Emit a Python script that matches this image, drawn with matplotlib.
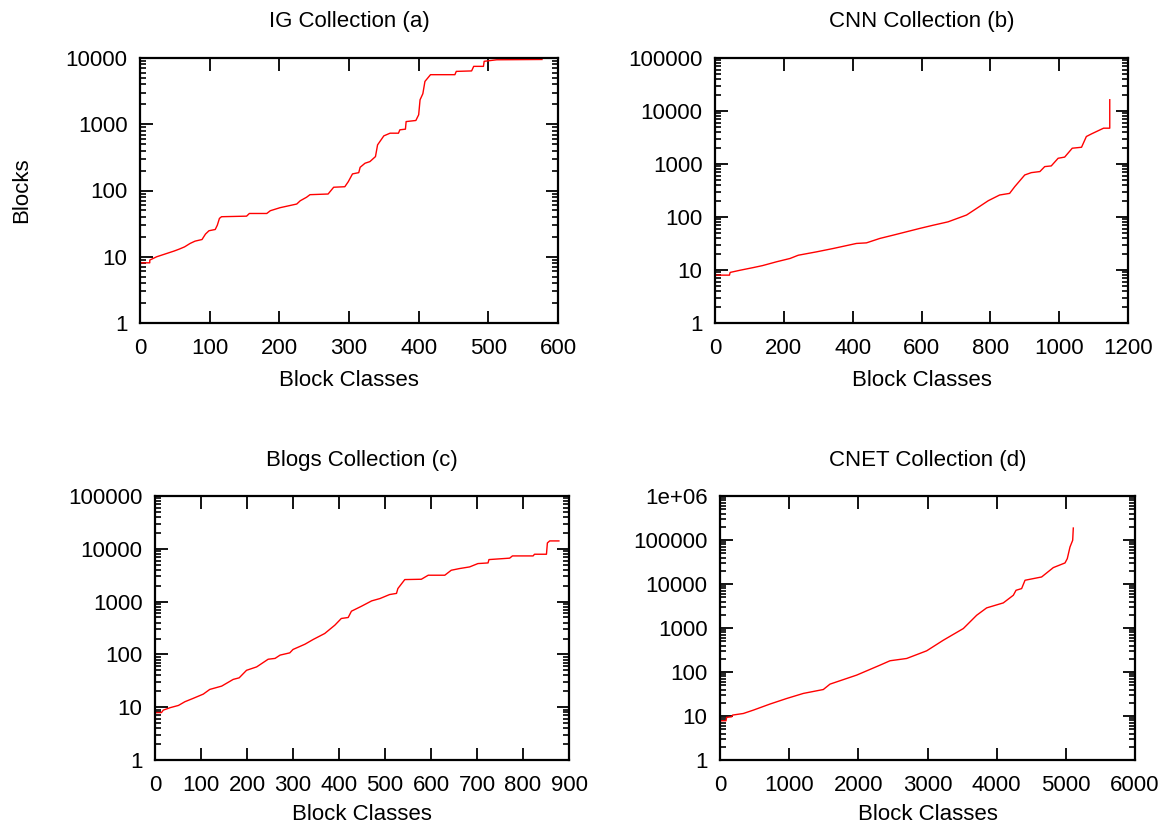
import matplotlib
matplotlib.use('Agg')
import matplotlib.pyplot as plt
from matplotlib.ticker import LogLocator, FuncFormatter, NullFormatter

plt.rcParams['font.family'] = ['Liberation Sans', 'DejaVu Sans']
plt.rcParams['font.size'] = 16

# (a) IG collection
ig_x = [0, 14, 14, 24, 36, 49, 56, 64, 72, 79, 89, 94, 99, 108, 111, 114, 117, 153, 157,
        182, 187, 201, 225, 230, 239, 244, 270, 278, 294, 299, 305, 314, 316, 323, 330,
        338, 341, 350, 359, 371, 373, 381, 382, 396, 400, 402, 406, 409, 417, 452, 454,
        476, 479, 493, 494, 503, 512, 577]
ig_y = [8.1, 8.1, 8.9, 10, 11, 12.2, 13, 14.1, 15.9, 17.2, 18.2, 22, 24.7, 25.8, 30, 37.9,
        40.2, 41, 45, 45, 49.5, 55, 62.5, 70, 79, 86.5, 88.5, 112, 114, 136, 178, 186, 224,
        258, 273, 325, 488, 668, 733, 733, 824, 843, 1097, 1140, 1390, 2340, 2890, 4430,
        5600, 5600, 6280, 6380, 7480, 7480, 8910, 9150, 9400, 9500]

# (b) CNN collection
cnn_x = [0, 42, 44, 73, 111, 138, 179, 218, 242, 295, 344, 411, 440, 479, 518, 595, 634,
         677, 731, 760, 794, 827, 856, 871, 900, 919, 944, 958, 977, 997, 1016, 1038,
         1065, 1079, 1094, 1129, 1147, 1147]
cnn_y = [8, 8, 9, 9.9, 11.1, 12.1, 14.3, 16.5, 19, 22, 25.5, 31.7, 32.5, 39.4, 45.5, 60.9,
         70, 81, 109, 145, 203, 260, 279, 374, 621, 687, 720, 893, 920, 1283, 1350, 1985,
         2070, 3300, 3700, 4740, 4740, 16300]

# (c) Blogs collection
blogs_x = [0, 14, 18, 33, 51, 65, 83, 105, 119, 145, 170, 183, 199, 221, 246, 261, 272,
           293, 300, 326, 344, 369, 391, 405, 420, 427, 449, 471, 489, 510, 525, 528, 543,
           579, 594, 630, 644, 662, 684, 702, 724, 726, 771, 777, 822, 825, 851, 853, 858,
           878]
blogs_y = [7.9, 7.9, 8.8, 9.8, 10.8, 12.7, 14.7, 17.7, 21.7, 25.1, 33.6, 36, 50, 58, 81,
           84, 97, 107, 124, 156, 192, 249, 358, 479, 500, 658, 818, 1032, 1142, 1360, 1430,
           1766, 2613, 2650, 3160, 3160, 3925, 4225, 4540, 5250, 5400, 6250, 6650, 7330,
           7330, 7890, 7890, 12900, 14100, 14100]

# (d) CNET collection
cnet_x = [0, 87, 96, 169, 183, 337, 482, 723, 964, 1205, 1494, 1590, 1976, 2313, 2458,
          2699, 2988, 3229, 3518, 3711, 3855, 4096, 4241, 4280, 4361, 4410, 4650, 4819,
          4988, 5021, 5060, 5099, 5108]
cnet_y = [7.8, 7.8, 9.3, 9.6, 10.5, 11.4, 13.6, 18.7, 25, 32.6, 40, 53, 85, 143, 180, 203,
          303, 528, 972, 1950, 2865, 3720, 5550, 7200, 7870, 12170, 14450, 23600, 30100,
          37700, 69300, 98600, 187000]

W, H = 1163, 825
fig = plt.figure(figsize=(W / 100, H / 100), dpi=100)


def px_axes(left, top, right, bottom):
    return fig.add_axes([left / W, 1 - bottom / H, (right - left) / W, (bottom - top) / H])


def fmt(v, pos):
    if v >= 1e6:
        return '1e+06'
    return '%d' % round(v)


panels = [
    ((140, 58, 558, 323), ig_x, ig_y, 'IG Collection (a)', (0, 600), 100, 1e4, 47),
    ((715, 58, 1128, 323), cnn_x, cnn_y, 'CNN Collection (b)', (0, 1200), 200, 1e5, 47),
    ((155, 496, 569, 760), blogs_x, blogs_y, 'Blogs Collection (c)', (0, 900), 100, 1e5, 44),
    ((720, 496, 1135, 760), cnet_x, cnet_y, 'CNET Collection (d)', (0, 6000), 1000, 1e6, 44),
]

for (l, t, r, b), xs, ys, title, xlim, xstep, ymax, lab_off in panels:
    ax = px_axes(l, t, r, b)
    ax.plot(xs, ys, color='#ff0000', lw=1.0)
    ax.set_yscale('log')
    ax.set_xlim(*xlim)
    ax.set_ylim(1, ymax)
    ax.set_xticks(range(xlim[0], xlim[1] + 1, xstep))
    ax.yaxis.set_major_locator(LogLocator(base=10, numticks=10))
    ax.yaxis.set_minor_locator(LogLocator(base=10, subs=range(2, 10), numticks=20))
    ax.yaxis.set_major_formatter(FuncFormatter(fmt))
    ax.yaxis.set_minor_formatter(NullFormatter())
    ax.tick_params(which='major', direction='in', length=9, width=1.3,
                   top=True, right=True, labelsize=16, pad=11)
    ax.tick_params(which='minor', direction='in', length=4.5, width=1.2,
                   left=True, right=True)
    ax.tick_params(axis='y', which='major', pad=9)
    for s in ax.spines.values():
        s.set_linewidth(1.6)
    ax.set_xlabel('Block Classes', fontsize=16)
    ax.xaxis.set_label_coords(0.5, -lab_off / (b - t))
    ax.text(0.5, 1 + 36 / (b - t), title, transform=ax.transAxes,
            ha='center', va='center', fontsize=16)

fig.text(22 / W, 1 - 190 / H, 'Blocks', rotation=90, ha='center', va='center', fontsize=16)

plt.savefig('out.png', dpi=100)
plt.close()
